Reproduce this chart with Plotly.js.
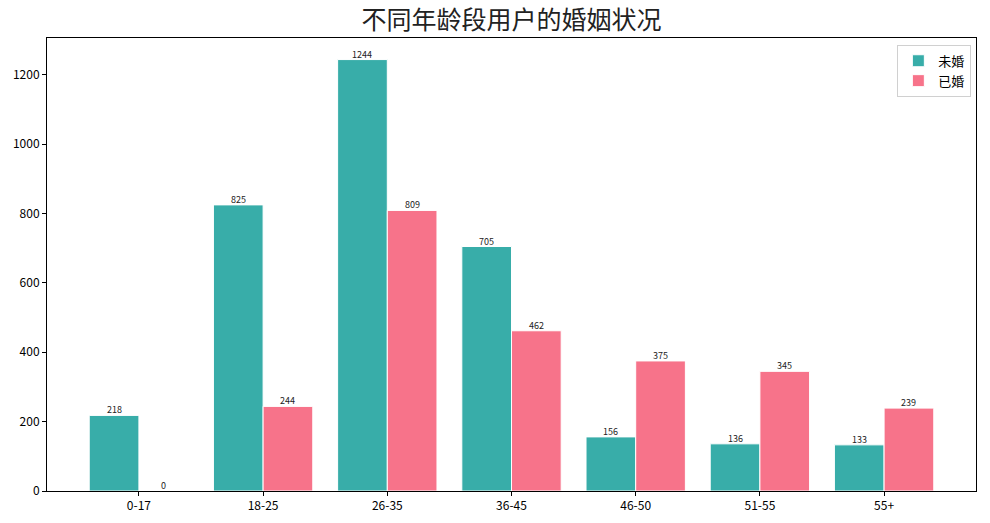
<!DOCTYPE html>
<html><head><meta charset="utf-8">
<script src="https://cdn.plot.ly/plotly-3.0.1.min.js"></script>
<style>body{margin:0;background:#fff}</style>
</head><body>
<div id="chart" style="width:990px;height:523px"></div>
<script>
const categories = ["0-17","18-25","26-35","36-45","46-50","51-55","55+"];
const unmarried = [218, 825, 1244, 705, 156, 136, 133];
const married = [0, 244, 809, 462, 375, 345, 239];
const seriesNames = ["未婚","已婚"];
const colors = ["#38ada9","#f7738a"];

const idx = categories.map((c,i)=>i);
const font = "'Noto Sans CJK SC', 'DejaVu Sans', sans-serif";

const traces = [unmarried, married].map((vals,k)=>({
  type:'bar',
  name: seriesNames[k],
  x: idx.map(i=> i + (k===0 ? -0.2 : 0.2)),
  y: vals,
  width: 0.4,
  marker:{color:colors[k], line:{color:'#ffffff', width:1}},
  hoverinfo:'x+y'
}));

const annotations = [];
[unmarried, married].forEach((vals,k)=>{
  vals.forEach((v,i)=>{
    annotations.push({
      x: i + (k===0 ? -0.2 : 0.2), y: v, xref:'x', yref:'y',
      text: String(v), showarrow:false, yanchor:'bottom', yshift:-3,
      font:{family:font, size:9, color:'#222'}
    });
  });
});

const layout = {
  width:990, height:523,
  margin:{l:47, r:14, t:38, b:32},
  paper_bgcolor:'#fff', plot_bgcolor:'#fff',
  font:{family:font, size:12, color:'#000'},
  title:{text:'不同年龄段用户的婚姻状况', x:0.5, xref:'paper', y:0.962, yanchor:'middle',
         font:{family:font, size:25, color:'#222'}},
  showlegend:true,
  legend:{x:0.995, y:0.985, xanchor:'right', yanchor:'top', bgcolor:'#fff',
          bordercolor:'#d0d0d0', borderwidth:1, font:{family:font, size:13}, traceorder:'normal'},
  xaxis:{range:[-0.74, 6.74], tickmode:'array', tickvals:idx, ticktext:categories,
         showgrid:false, zeroline:false, showline:true, linecolor:'#000', linewidth:1, mirror:true,
         ticks:'outside', ticklen:4, tickcolor:'#000', tickfont:{family:font, size:12, color:'#000'}},
  yaxis:{range:[0, 1306.2], tickvals:[0,200,400,600,800,1000,1200],
         showgrid:false, zeroline:false, showline:true, linecolor:'#000', linewidth:1, mirror:true,
         ticks:'outside', ticklen:4, tickcolor:'#000', tickfont:{family:font, size:12, color:'#000'}},
  annotations: annotations,
  bargap:0
};
Plotly.newPlot('chart', traces, layout, {displayModeBar:false, staticPlot:true});
</script>
</body></html>
